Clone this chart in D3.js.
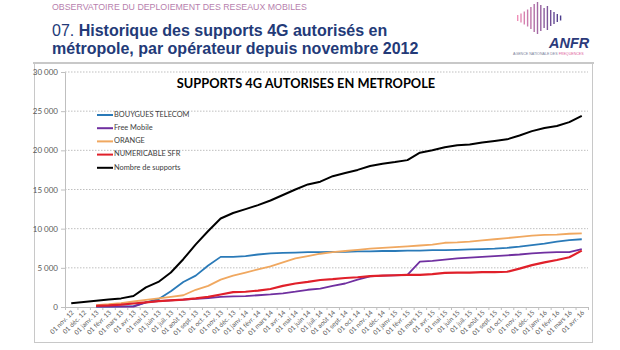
<!DOCTYPE html>
<html>
<head>
<meta charset="utf-8">
<script src="https://cdn.jsdelivr.net/npm/d3@7"></script>
<style>
  body { margin: 0; background: #fff; }
  svg { display: block; }
</style>
</head>
<body>
<svg id="chart" width="620" height="350"></svg>
<script>
// month labels of the category axis
var months = ["01 nov. 12","01 déc. 12","01 janv. 13","01 févr. 13","01 mars 13","01 avr. 13","01 mai 13","01 juin 13",
  "01 juil. 13","01 août 13","01 sept. 13","01 oct. 13","01 nov. 13","01 déc. 13","01 janv. 14","01 févr. 14",
  "01 mars 14","01 avr. 14","01 mai 14","01 juin 14","01 juil. 14","01 août 14","01 sept. 14","01 oct. 14",
  "01 nov. 14","01 déc. 14","01 janv. 15","01 févr. 15","01 mars 15","01 avr. 15","01 mai 15","01 juin 15",
  "01 juil. 15","01 août 15","01 sept. 15","01 oct. 15","01 nov. 15","01 déc. 15","01 janv. 16","01 févr. 16",
  "01 mars 16","01 avr. 16"]

var yTicks = [0, 5000, 10000, 15000, 20000, 25000, 30000]

// operators start at janv. 13 (null before)
var bouygues = [null,null,50,60,80,100,600,1000,2000,3200,4000,5300,6400,6400,6500,6700,6850,6900,6950,7000,7000,
  7050,7050,7100,7100,7150,7150,7200,7200,7250,7250,7300,7350,7400,7450,7550,7700,7900,8100,8350,8550,8650]
var free = [null,null,50,50,50,50,600,750,850,950,1050,1150,1300,1350,1400,1500,1600,1750,1950,2200,2350,
  2700,3000,3500,3900,4000,4050,4100,5800,5900,6050,6200,6300,6400,6500,6600,6700,6850,6950,7000,7000,7400]
var orange = [null,null,250,350,500,700,900,1100,1300,1500,2200,2700,3500,4000,4400,4800,5200,5700,6200,6500,6800,
  7000,7150,7300,7450,7550,7650,7750,7850,7950,8200,8250,8350,8500,8650,8800,8950,9100,9200,9250,9350,9400]
var sfr = [null,null,150,200,300,450,600,750,850,950,1100,1300,1600,1900,1950,2100,2300,2700,3000,3200,3450,
  3550,3700,3800,3950,4000,4050,4100,4100,4200,4350,4400,4400,4450,4450,4500,4900,5350,5700,6000,6350,7200]
var total = [470,650,800,950,1100,1400,2500,3200,4400,6100,8000,9700,11300,12000,12500,13000,13600,14300,15000,
  15650,16000,16700,17100,17500,18000,18300,18500,18750,19700,20000,20400,20650,20750,21000,21200,21400,21900,
  22450,22850,23100,23600,24400]

var seriesNames = ["BOUYGUES TELECOM", "Free Mobile", "ORANGE", "NUMERICABLE SFR", "Nombre de supports"]
var seriesColors = ["#2a7ab8", "#7030a0", "#f0a860", "#e0202a", "#000000"]
var seriesValues = [bouygues, free, orange, sfr, total]
var seriesWidths = [1.8, 1.8, 1.8, 2.2, 2]

// logo bar heights (decoration)
var logoBars = [6, 9, 13, 17, 22, 28, 32, 26, 20, 24, 16, 12, 8, 5]

var svg = d3.select("#chart")

// ---------- page header ----------
svg.append("text")
    .attr("x", 52).attr("y", 10)
    .attr("font-family", "Liberation Sans, Arial")
    .attr("font-size", "8.8px")
    .attr("fill", "#b77fae")
    .text("OBSERVATOIRE DU DEPLOIEMENT DES RESEAUX MOBILES")

var title = svg.append("text")
    .attr("font-family", "Liberation Sans, Arial")
    .attr("font-size", "16px")
    .attr("fill", "#233a78")
var t1 = title.append("tspan").attr("x", 52).attr("y", 36)
t1.append("tspan").text("07. ")
t1.append("tspan").attr("font-weight", "bold").text("Historique des supports 4G autorisés en")
title.append("tspan").attr("x", 52).attr("y", 54)
    .attr("font-weight", "bold")
    .text("métropole, par opérateur depuis novembre 2012")

// logo
var logo = svg.append("g").attr("transform", "translate(517,18)")
var barColor = d3.scaleLinear().domain([0, logoBars.length - 1]).range(["#f08fb8", "#4b3c8c"])
logo.selectAll("rect").data(logoBars).enter().append("rect")
    .attr("x", function(d, i) { return i * 3.3 })
    .attr("y", function(d) { return -d / 2 })
    .attr("width", 1.4)
    .attr("height", function(d) { return d })
    .attr("fill", function(d, i) { return barColor(i) })
svg.append("text")
    .attr("x", 549).attr("y", 48)
    .attr("font-family", "Liberation Sans, Arial")
    .attr("font-size", "14.5px").attr("font-weight", "bold").attr("font-style", "italic")
    .attr("fill", "#2b3a7a")
    .text("ANFR")
var sub = svg.append("text")
    .attr("x", 513).attr("y", 55)
    .attr("font-family", "Liberation Sans, Arial")
    .attr("font-size", "3.6px")
    .attr("fill", "#7a7f99")
sub.append("tspan").text("AGENCE NATIONALE DES ")
sub.append("tspan").attr("fill", "#e0609a").text("FREQUENCES")

// ---------- chart frame ----------
svg.append("line")
    .attr("x1", 33).attr("x2", 594).attr("y1", 63).attr("y2", 63)
    .attr("stroke", "#c8c8c8").attr("stroke-width", 2)
svg.append("rect")
    .attr("x", 34.5).attr("y", 63.5).attr("width", 558).attr("height", 279)
    .attr("fill", "none").attr("stroke", "#c8c8c8")

var plotLeft = 65, plotRight = 588, plotTop = 72, plotBottom = 307

var x = d3.scaleLinear().domain([0, months.length]).range([plotLeft, plotRight])
var y = d3.scaleLinear().domain([0, 30000]).range([plotBottom, plotTop])

var chartArea = svg.append("g")

// gridlines
chartArea.append("g")
    .selectAll("line").data(yTicks.filter(function(d) { return d > 0 })).enter().append("line")
    .attr("x1", plotLeft).attr("x2", plotRight)
    .attr("y1", function(d) { return y(d) }).attr("y2", function(d) { return y(d) })
    .attr("stroke", "#bfbfbf").attr("stroke-dasharray", "1.5,1.5")

var fmt = function(d) { return d3.format(",")(d).replace(/,/g, " ") }
var yAxis = chartArea.append("g")
    .attr("transform", "translate(" + plotLeft + ",0)")
    .call(d3.axisLeft(y).tickValues(yTicks).tickSize(4).tickFormat(fmt))
yAxis.select(".domain").attr("stroke", "#bfbfbf")
yAxis.selectAll(".tick line").attr("stroke", "#bfbfbf")
yAxis.selectAll("text")
    .attr("font-family", "Lato, Calibri, sans-serif").attr("font-size", "8px").attr("fill", "#595959")

var xAxis = chartArea.append("g")
    .attr("transform", "translate(0," + plotBottom + ")")
    .call(d3.axisBottom(x).tickValues(d3.range(months.length + 1)).tickSize(3).tickSizeOuter(0).tickFormat(""))
xAxis.select(".domain").attr("stroke", "#bfbfbf")
xAxis.selectAll(".tick line").attr("stroke", "#bfbfbf")

chartArea.append("g").selectAll("text").data(months).enter().append("text")
    .attr("transform", function(d, i) {
        return "translate(" + (x(i + 0.5) + 3) + "," + (plotBottom + 6) + ") rotate(-45)"
    })
    .attr("text-anchor", "end")
    .attr("font-family", "Lato, Calibri, sans-serif").attr("font-size", "6.5px").attr("fill", "#595959")
    .text(function(d) { return d })

// lines
var line = d3.line()
    .defined(function(d) { return d != null })
    .x(function(d, i) { return x(i + 0.5) })
    .y(function(d) { return y(d) })

chartArea.append("g").selectAll("path").data(seriesValues).enter().append("path")
    .attr("d", function(d) { return line(d) })
    .attr("fill", "none")
    .attr("stroke", function(d, i) { return seriesColors[i] })
    .attr("stroke-width", function(d, i) { return seriesWidths[i] })
    .attr("stroke-linejoin", "round")

// chart title
svg.append("text")
    .attr("x", 306).attr("y", 88)
    .attr("text-anchor", "middle")
    .attr("font-family", "Lato, Calibri, sans-serif")
    .attr("font-size", "12.8px").attr("font-weight", "bold")
    .attr("fill", "#000")
    .text("SUPPORTS 4G AUTORISES EN METROPOLE")

// legend
var legend = svg.append("g").attr("transform", "translate(97,115)")
seriesNames.forEach(function(d, i) {
    var row = legend.append("g").attr("transform", "translate(0," + (13.2 * i) + ")")
    row.append("line")
        .attr("x1", 0).attr("x2", 16).attr("y1", 0).attr("y2", 0)
        .attr("stroke", seriesColors[i]).attr("stroke-width", 2)
    row.append("text")
        .attr("x", 17).attr("y", 0)
        .attr("dominant-baseline", "middle")
        .attr("font-family", "Lato, Calibri, sans-serif").attr("font-size", "7.4px").attr("fill", "#404040")
        .text(d)
})
</script>
</body>
</html>
